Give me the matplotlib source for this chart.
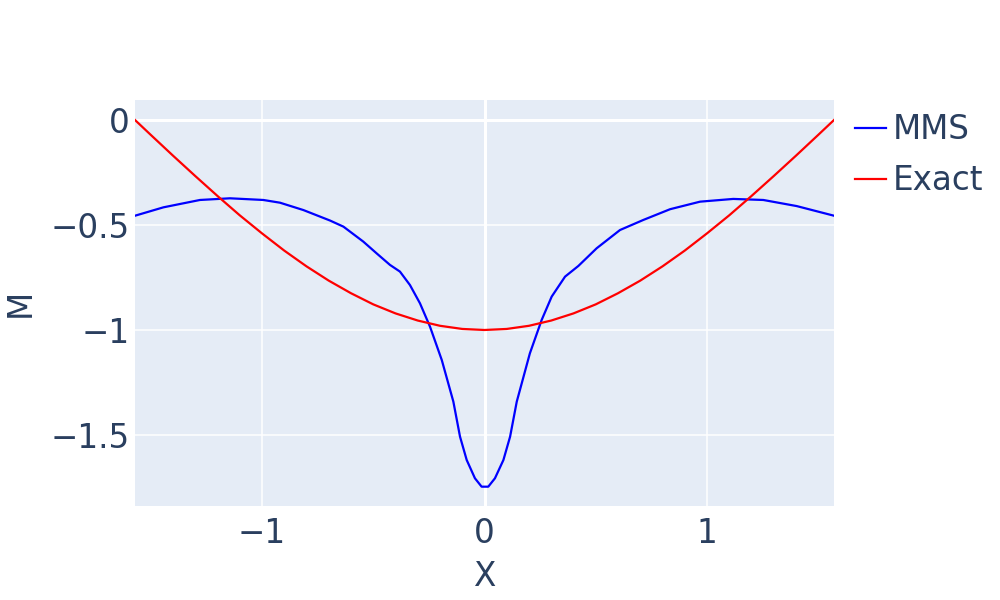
import matplotlib
matplotlib.use("Agg")
import matplotlib.pyplot as plt

plt.rcParams['font.family'] = ['DejaVu Sans']

# MMS series
mms_x = [-1.571, -1.443, -1.279, -1.144, -0.994, -0.919, -0.814, -0.694, -0.634,
         -0.545, -0.485, -0.425, -0.380, -0.335, -0.290, -0.245, -0.192, -0.140,
         -0.110, -0.080, -0.043, -0.013, 0.0, 0.017, 0.047, 0.085, 0.115, 0.145,
         0.204, 0.257, 0.302, 0.362, 0.422, 0.504, 0.609, 0.714, 0.834, 0.969,
         1.118, 1.253, 1.403, 1.571]
mms_y = [-0.456, -0.416, -0.381, -0.373, -0.381, -0.394, -0.429, -0.479, -0.508,
         -0.579, -0.635, -0.690, -0.722, -0.786, -0.873, -0.984, -1.143, -1.341,
         -1.508, -1.619, -1.706, -1.746, -1.746, -1.746, -1.706, -1.619, -1.508, -1.341,
         -1.111, -0.952, -0.841, -0.746, -0.695, -0.611, -0.524, -0.476, -0.425, -0.389,
         -0.376, -0.381, -0.410, -0.456]

# Exact series
exact_x = [-1.571, -1.5, -1.4, -1.3, -1.2, -1.1, -1.0, -0.9, -0.8, -0.7, -0.6,
           -0.5, -0.4, -0.3, -0.2, -0.1, 0.0, 0.1, 0.2, 0.3, 0.4, 0.5, 0.6,
           0.7, 0.8, 0.9, 1.0, 1.1, 1.2, 1.3, 1.4, 1.5, 1.571]
exact_y = [0.0, -0.071, -0.170, -0.267, -0.362, -0.454, -0.540, -0.622, -0.697,
           -0.765, -0.825, -0.878, -0.921, -0.955, -0.980, -0.995, -1.0, -0.995,
           -0.980, -0.955, -0.921, -0.878, -0.825, -0.765, -0.697, -0.622, -0.540,
           -0.454, -0.362, -0.267, -0.170, -0.071, 0.0]

x_ticks = [-1, 0, 1]
x_tick_labels = ['\u22121', '0', '1']
y_ticks = [0, -0.5, -1, -1.5]
y_tick_labels = ['0', '\u22120.5', '\u22121', '\u22121.5']

text_color = '#2a3f5f'
fs = 23.5

fig = plt.figure(figsize=(10, 6), dpi=100)
ax = fig.add_axes([0.135, 1 - 506 / 600, (834 - 135) / 1000, (506 - 100) / 600])
ax.set_facecolor('#E5ECF6')
for s in ax.spines.values():
    s.set_visible(False)

ax.plot(mms_x, mms_y, color='blue', lw=1.6, label='MMS', zorder=3)
ax.plot(exact_x, exact_y, color='red', lw=1.6, label='Exact', zorder=3)

ax.set_xlim(-1.5708, 1.5708)
ax.set_ylim(-1.838, 0.095)

ax.set_xticks(x_ticks)
ax.set_xticklabels(x_tick_labels)
ax.set_yticks(y_ticks)
ax.set_yticklabels(y_tick_labels)
ax.grid(True, color='white', lw=1.1, zorder=1)
ax.set_axisbelow(True)
ax.axvline(0, color='white', lw=2.2, zorder=1.5)
ax.axhline(0, color='white', lw=2.2, zorder=1.5)

ax.tick_params(axis='both', length=0, labelsize=fs, colors=text_color)
ax.tick_params(axis='x', pad=8)
ax.tick_params(axis='y', pad=4)

ax.set_xlabel('X', fontsize=fs, color=text_color, labelpad=7)
ax.set_ylabel('M', fontsize=fs, color=text_color, labelpad=10)

leg = ax.legend(loc='upper left', bbox_to_anchor=(1.012, 1.0), frameon=False,
                fontsize=fs, labelcolor=text_color, handlelength=0.95,
                handletextpad=0.2, labelspacing=0.55, borderaxespad=0.0)

fig.savefig('out.png', dpi=100)
